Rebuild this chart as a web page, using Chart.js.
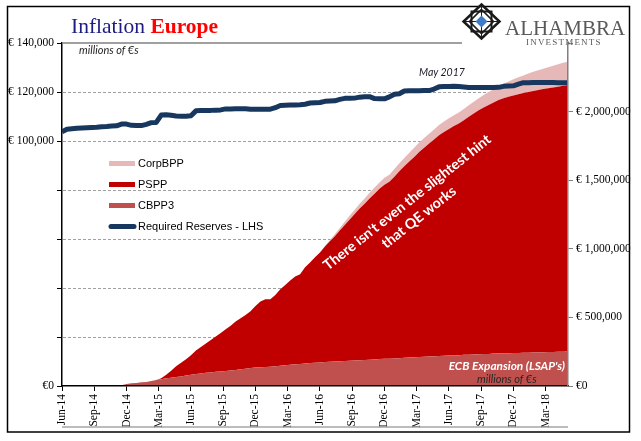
<!DOCTYPE html>
<html><head><meta charset="utf-8">
<script src="https://cdn.jsdelivr.net/npm/chart.js@4.4.1/dist/chart.umd.min.js"></script>
<style>
html,body{margin:0;padding:0;background:#fff;}
#wrap{position:relative;width:641px;height:441px;overflow:hidden;}
#c{position:absolute;left:0;top:0;}
#ov{position:absolute;left:0;top:0;pointer-events:none;}
</style></head><body>
<div id="wrap">
<canvas id="c" width="641" height="441"></canvas>
<svg id="ov" width="641" height="441" xmlns="http://www.w3.org/2000/svg">
  <text x="71" y="33" font-family="Liberation Serif" font-size="21.5"><tspan fill="#1C1C80">Inflation</tspan><tspan fill="#FF0000" font-weight="bold"> Europe</tspan></text>
  <g transform="translate(481.5,21.5)">
    <path d="M0,-17 L18,0 L0,17 L-18,0 Z" fill="none" stroke="#1a1a1a" stroke-width="2.5"/>
    <rect x="-10" y="-10" width="20" height="20" fill="none" stroke="#1a1a1a" stroke-width="2"/>
    <path d="M0,-12 L12,0 L0,12 L-12,0 Z" fill="none" stroke="#1a1a1a" stroke-width="1.6"/>
    <path d="M-18,0 L18,0 M0,-17 L0,17" stroke="#1a1a1a" stroke-width="1"/>
    <path d="M0,-6 L6,0 L0,6 L-6,0 Z" fill="#3F7CC8"/>
  </g>
  <text x="505" y="35" font-family="Liberation Serif" font-size="21" fill="#595959">ALHAMBRA</text>
  <text x="526" y="45" font-family="Liberation Serif" font-size="9" letter-spacing="1.2" fill="#595959">INVESTMENTS</text>
  <text x="79" y="54" font-family="Lato" font-style="italic" font-size="11" fill="#262626">millions of €s</text>
  <text x="419" y="75.5" font-family="Lato" font-style="italic" font-size="10.5" fill="#1a1a2a">May 2017</text>
  <text transform="translate(410,206) rotate(-38.3)" text-anchor="middle" font-family="Lato" font-weight="bold" font-size="14.2" fill="#ffffff"><tspan x="0" y="0">There isn't even the slightest hint</tspan><tspan x="0" y="19">that QE works</tspan></text>
  <text x="565" y="369.5" text-anchor="end" font-family="Lato" font-weight="bold" font-style="italic" font-size="11.8" fill="#ffffff">ECB Expansion (LSAP's)</text>
  <text x="477" y="383" font-family="Lato" font-style="italic" font-size="11" fill="#262626">millions of €s</text>
</svg>
</div>
<script>
// x categories: week index counted from the first week of June 2014, sampled every 2 weeks
const weekIndex = Array.from({length: 103}, (_, i) => i * 2);
const tickLabels = ['Jun-14','Sep-14','Dec-14','Mar-15','Jun-15','Sep-15','Dec-15','Mar-16','Jun-16','Sep-16','Dec-16','Mar-17','Jun-17','Sep-17','Dec-17','Mar-18'];
const leftAxisLabels = [0, 100000, 120000, 140000];
const legendOrder = ['CorpBPP', 'PSPP', 'CBPP3', 'Required Reserves - LHS'];

// millions of €, right-hand axis (stacked)
const cbpp3 = [0,0,0,0,0,0,0,0,0,0,
  0,0,5000,14000,20000,22000,28000,30000,36000,44000,
  50000,56000,60000,66000,70000,77000,82000,88000,92000,96000,
  99000,103000,106000,109000,113000,117000,122000,126000,132000,134000,
  137000,139000,141000,144000,147000,152000,155000,159000,161000,164000,
  167000,169000,172000,175000,176000,178000,180000,182000,184000,186000,
  188000,190000,192000,194000,196000,198000,199000,201000,203000,205000,
  207000,209000,211000,213000,215000,216000,218000,220000,222000,223000,
  225000,227000,228000,230000,231000,233000,234000,236000,237000,238000,
  239000,240000,241000,242000,243000,244000,245000,246000,247000,248000,
  249000,250000,251000];
const pspp = [0,0,0,0,0,0,0,0,0,0,
  0,0,0,0,0,0,0,0,0,0,
  6000,26000,52000,78000,100000,118000,142000,170000,193000,213000,
  236000,257000,280000,304000,327000,354000,372000,392000,413000,450000,
  478000,494000,492000,520000,559000,585000,614000,639000,654000,702000,
  733000,770000,801000,842000,879000,914000,953000,991000,1029000,1067000,
  1105000,1138000,1175000,1208000,1241000,1269000,1289000,1325000,1362000,1396000,
  1429000,1461000,1494000,1523000,1552000,1581000,1609000,1632000,1652000,1672000,
  1688000,1710000,1734000,1756000,1779000,1797000,1814000,1830000,1847000,1859000,
  1869000,1878000,1886000,1893000,1900000,1907000,1913000,1918000,1923000,1928000,
  1933000,1938000,1941000];
const corpbpp = [0,0,0,0,0,0,0,0,0,0,
  0,0,0,0,0,0,0,0,0,0,
  0,0,0,0,0,0,0,0,0,0,
  0,0,0,0,0,0,0,0,0,0,
  0,0,0,0,0,0,0,0,0,0,
  0,0,0,3000,10000,14000,19000,24000,29000,32000,
  35000,38000,41000,44000,47000,50000,52000,55000,58000,61000,
  64000,67000,70000,71000,72000,73000,75000,76000,77000,78000,
  80000,82000,84000,86000,88000,91000,94000,97000,100000,106000,
  112000,118000,124000,129000,134000,139000,144000,149000,154000,159000,
  164000,168000,172000];
// millions of €, left-hand axis
const reserves = [103800,104800,105000,105200,105300,105400,105500,105600,105800,105900,
  106100,106200,106900,106900,106400,106300,106300,106800,107500,107600,
  110600,110700,110500,110200,110100,110100,110300,112300,112400,112500,
  112500,112600,112700,113100,113100,113200,113200,113200,113000,113000,
  113000,113000,113000,113600,114500,114600,114700,114700,114800,115000,
  115500,115600,115700,116200,116300,116400,117000,117400,117400,117500,
  117900,118100,118100,117300,117200,117200,118000,119100,119300,120400,
  120500,120500,120500,120600,120600,121200,122100,122200,122200,122300,
  122200,122000,121800,121800,121800,121800,121800,121800,121900,122300,
  122400,122500,123200,123800,123800,123900,123900,123900,123900,123900,
  123800,123800,123800];

const euro = v => v === 0 ? '€0' : '€ ' + Number(v).toLocaleString('en-US');
const tickFont = {family: 'Liberation Serif', size: 11.5};

const decor = {
  id: 'decor',
  beforeDraw(ch) {
    const c = ch.ctx; c.save(); c.fillStyle = '#fff'; c.fillRect(0, 0, ch.width, ch.height); c.restore();
  },
  beforeDatasetsDraw(ch) {
    // dashed horizontal gridlines at the left-hand scale's own ticks
    const c = ch.ctx, a = ch.chartArea, s = ch.scales.yL;
    c.save();
    c.strokeStyle = '#A0A0A0'; c.lineWidth = 1; c.setLineDash([3, 2]);
    s.ticks.forEach(t => {
      if (t.value === s.min || t.value === s.max) return;
      const y = Math.round(s.getPixelForValue(t.value)) + 0.5;
      c.beginPath(); c.moveTo(a.left + 1, y); c.lineTo(a.right, y); c.stroke();
    });
    c.restore();
  },
  afterDraw(ch) {
    const c = ch.ctx, a = ch.chartArea;
    c.save();
    c.strokeStyle = '#808080'; c.lineWidth = 1.5;
    c.beginPath(); c.moveTo(a.left, a.top); c.lineTo(462, a.top); c.stroke();
    c.strokeStyle = '#A6A6A6';
    c.beginPath(); c.moveTo(a.left, 427); c.lineTo(a.right, 427); c.stroke();
    legendOrder.forEach((name, k) => {
      const ds = ch.data.datasets.find(d => d.label === name);
      const y = 163.5 + k * 21;
      const isLine = ds.fill === false;
      c.strokeStyle = isLine ? ds.borderColor : ds.backgroundColor;
      c.lineWidth = 5; c.lineCap = isLine ? 'round' : 'butt';
      c.beginPath(); c.moveTo(isLine ? 111 : 109, y); c.lineTo(isLine ? 134 : 135, y); c.stroke();
      c.fillStyle = '#000'; c.font = '11px "Liberation Sans"'; c.textBaseline = 'middle'; c.textAlign = 'left';
      c.fillText(name, 138, y + 0.5);
    });
    c.fillStyle = '#fff'; c.fillRect(630.5, 0, 12, ch.height);
    c.strokeStyle = '#000'; c.lineWidth = 1.5; c.strokeRect(7.5, 6.5, 622, 425.5);
    c.restore();
  }
};

Chart.defaults.font.family = 'Liberation Serif';
new Chart(document.getElementById('c'), {
  type: 'line',
  data: {
    labels: weekIndex,
    datasets: [
      {label: 'Required Reserves - LHS', data: reserves, yAxisID: 'yL', stack: 'reserves', borderColor: '#17375E', borderWidth: 5,
       pointRadius: 0, fill: false, tension: 0, borderCapStyle: 'butt', borderJoinStyle: 'round'},
      {label: 'CBPP3', data: cbpp3, yAxisID: 'yR', stack: 'lsap', backgroundColor: '#C0504D', borderColor: 'rgba(0,0,0,0)', borderWidth: 0, pointRadius: 0, fill: 'origin'},
      {label: 'PSPP', data: pspp, yAxisID: 'yR', stack: 'lsap', backgroundColor: '#C00000', borderColor: 'rgba(0,0,0,0)', borderWidth: 0, pointRadius: 0, fill: '-1'},
      {label: 'CorpBPP', data: corpbpp, yAxisID: 'yR', stack: 'lsap', backgroundColor: '#E6B9B8', borderColor: 'rgba(0,0,0,0)', borderWidth: 0, pointRadius: 0, fill: '-1'}
    ]
  },
  options: {
    responsive: false, animation: false, devicePixelRatio: 1,
    layout: {padding: {top: 43, left: 0, right: 0, bottom: 0}},
    plugins: {legend: {display: false}, tooltip: {enabled: false}},
    scales: {
      x: {
        type: 'linear', min: 0, max: 204,
        afterBuildTicks: s => { s.ticks = tickLabels.map((_, i) => ({value: i * 13})); },
        ticks: {autoSkip: false, minRotation: 90, maxRotation: 90, padding: 3, color: '#000', font: tickFont,
                callback: (v, i) => tickLabels[i]},
        grid: {drawOnChartArea: false, drawTicks: true, tickLength: 5, tickColor: '#000', tickWidth: 1},
        border: {color: '#000', width: 1.5, z: 1},
        afterFit: s => { s.height = 55; }
      },
      yL: {
        type: 'linear', position: 'left', min: 0, max: 140000, stacked: false,
        ticks: {stepSize: 20000, autoSkip: false, color: '#000', font: tickFont, padding: 3,
                callback: v => leftAxisLabels.includes(v) ? euro(v) : ''},
        grid: {drawOnChartArea: false, tickColor: '#000', tickLength: 5, drawTicks: true},
        border: {color: '#000', width: 1.5},
        afterFit: s => { s.width = 62; }
      },
      yR: {
        type: 'linear', position: 'right', min: 0, max: 2500000, stacked: true,
        ticks: {stepSize: 500000, autoSkip: false, color: '#000', font: tickFont, padding: 3,
                callback: v => v === 2500000 ? '' : euro(v)},
        grid: {drawOnChartArea: false, tickLength: 5, tickColor: '#808080'},
        border: {color: '#808080', width: 1.5, z: 1},
        afterFit: s => { s.width = 73; }
      }
    }
  },
  plugins: [decor]
});
</script>
</body></html>
